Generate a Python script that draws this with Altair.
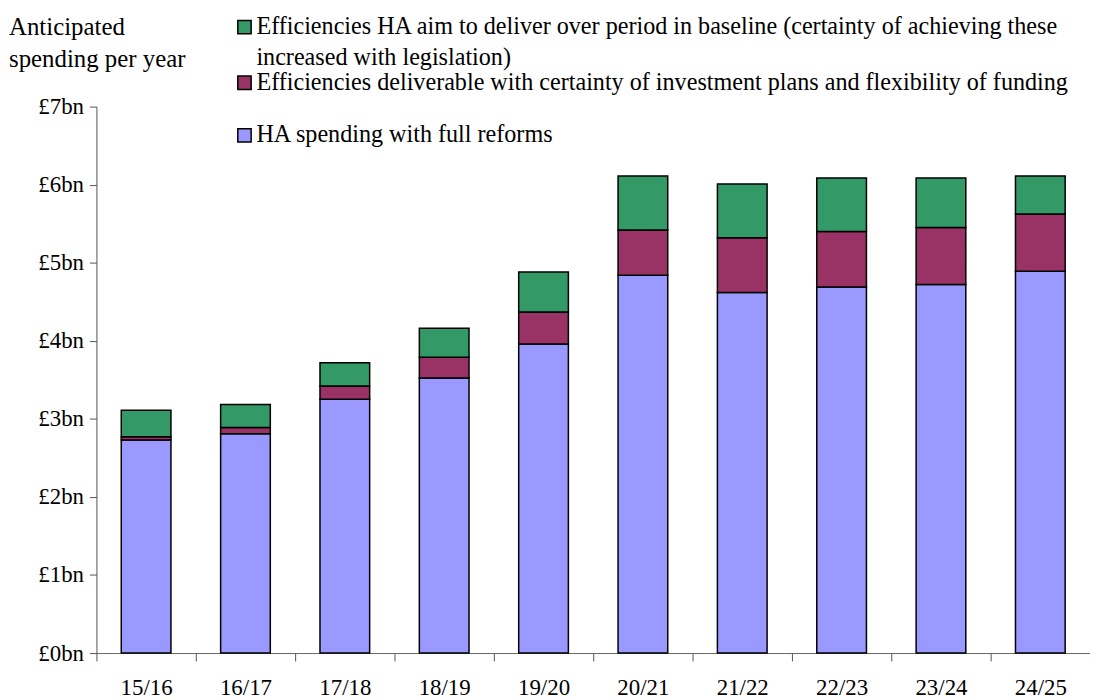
import altair as alt
import pandas as pd

years = ["15/16", "16/17", "17/18", "18/19", "19/20", "20/21", "21/22", "22/23", "23/24", "24/25"]
ha_spending = [2.73, 2.81, 3.25, 3.525, 3.96, 4.84, 4.62, 4.69, 4.72, 4.89]
eff_certainty = [0.04, 0.08, 0.17, 0.265, 0.41, 0.58, 0.70, 0.71, 0.73, 0.735]
eff_baseline = [0.34, 0.295, 0.30, 0.37, 0.51, 0.69, 0.69, 0.685, 0.635, 0.485]

series_names = [
    "HA spending with full reforms",
    "Efficiencies deliverable with certainty of investment plans and flexibility of funding",
    "Efficiencies HA aim to deliver over period in baseline (certainty of achieving these increased with legislation)",
]
series_colors = ["#9999FF", "#993366", "#339966"]
y_ticks = [0, 1, 2, 3, 4, 5, 6, 7]
y_title_lines = ["Anticipated", "spending per year"]
legend_lines = [
    "Efficiencies HA aim to deliver over period in baseline (certainty of achieving these",
    "increased with legislation)",
    "Efficiencies deliverable with certainty of investment plans and flexibility of funding",
    "HA spending with full reforms",
]

rows = []
for i, y in enumerate(years):
    for k, vals in enumerate([ha_spending, eff_certainty, eff_baseline]):
        rows.append({"year": y, "series": series_names[k], "value": vals[i], "order": k})
df = pd.DataFrame(rows)

FONT = "Liberation Serif"
FS = 23
FS_TXT = 24.3

bars = alt.Chart(df).mark_bar(stroke="black", strokeWidth=1.5, width=alt.RelativeBandSize(0.5)).encode(
    x=alt.X(
        "year:N",
        sort=years,
        scale=alt.Scale(paddingInner=0, paddingOuter=0),
        axis=alt.Axis(
            title=None, labelAngle=0, tickBand="extent", tickSize=8, labelPadding=16,
            domainColor="#666", tickColor="#555", labelFont=FONT, labelFontSize=FS,
            labelColor="black", grid=False,
        ),
    ),
    y=alt.Y(
        "value:Q",
        stack="zero",
        scale=alt.Scale(domain=[0, 7], nice=False),
        axis=alt.Axis(
            title=None, values=y_ticks, labelExpr="'£' + datum.value + 'bn'", tickSize=7,
            labelPadding=6, domainColor="#555", tickColor="#555", labelFont=FONT,
            labelFontSize=FS, labelColor="black", grid=False,
        ),
    ),
    color=alt.Color("series:N", scale=alt.Scale(domain=series_names, range=series_colors), legend=None),
    order=alt.Order("order:Q", sort="ascending"),
)

def txt(s, x, y, fs=FS_TXT):
    return alt.Chart(pd.DataFrame({"t": [s]})).mark_text(
        align="left", baseline="middle", font=FONT, fontSize=fs, color="black"
    ).encode(x=alt.value(x), y=alt.value(y), text="t:N")

def sq(color, x, y):
    return alt.Chart(pd.DataFrame({"c": [color]})).mark_square(
        size=180, opacity=1, stroke="black", strokeWidth=1.5, filled=True
    ).encode(x=alt.value(x), y=alt.value(y), color=alt.value(color))

layers = [bars]
layers.append(txt(y_title_lines[0], -88, -80, 25))
layers.append(txt(y_title_lines[1], -88, -48, 25))
layers.append(sq(series_colors[2], 149, -80))
layers.append(txt(legend_lines[0], 161, -80))
layers.append(txt(legend_lines[1], 161, -49))
layers.append(sq(series_colors[1], 149, -24))
layers.append(txt(legend_lines[2], 161, -24))
layers.append(sq(series_colors[0], 149, 29))
layers.append(txt(legend_lines[3], 161, 29))

chart = alt.layer(*layers).properties(
    width=1000, height=550,
    autosize=alt.AutoSizeParams(type="none"),
    padding={"left": 89, "top": 97, "right": 0, "bottom": 45},
).configure_view(stroke=None)

chart.save("out.html", embed_options={"renderer": "svg", "actions": False})
